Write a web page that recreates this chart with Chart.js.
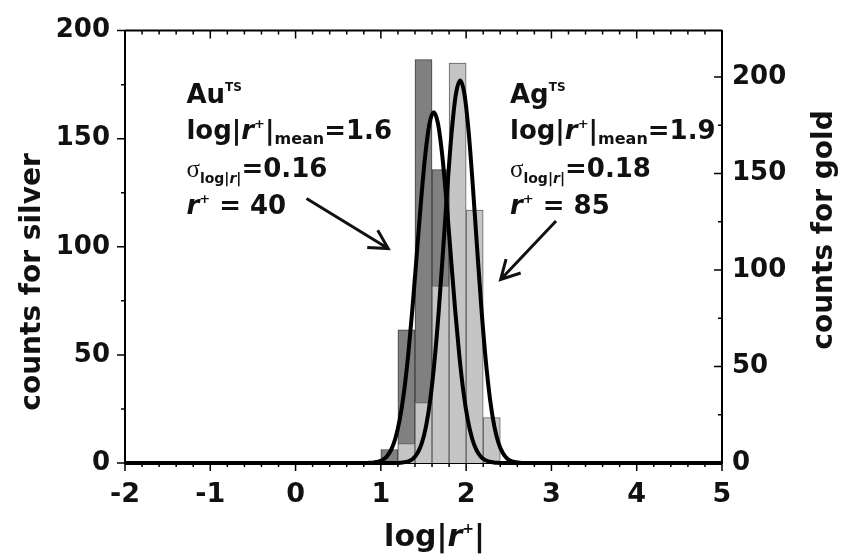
<!DOCTYPE html>
<html><head><meta charset="utf-8">
<script src="https://cdn.jsdelivr.net/npm/chart.js@4/dist/chart.umd.min.js"></script>
<style>html,body{margin:0;padding:0;background:#fff}</style>
</head><body>
<canvas id="c" width="842" height="560"></canvas>
<script>
// ---- data ----
const binCenters   = [1.1, 1.3, 1.5, 1.7, 1.9, 2.1, 2.3];   // log|r+| bin centres (bin width 0.2)
const goldCounts   = [7, 69, 209, 152, 42, 8, 0];            // Au (right axis), dark bars
const silverCounts = [0, 9, 28, 82, 185, 117, 21];           // Ag (left axis), light bars

const goldFitX = [-2, 0.82, 0.87, 0.92, 0.97, 1.02, 1.07, 1.12, 1.17, 1.22, 1.27, 1.32, 1.37, 1.42, 1.47, 1.52, 1.57, 1.62, 1.67, 1.72, 1.77, 1.82, 1.87, 1.92, 1.97, 2.02, 2.07, 2.12, 2.17, 2.22, 2.27, 2.32, 2.37, 2.42, 5];
const goldFitY = [0, 0, 0.1, 0.3, 0.7, 1.6, 3.4, 6.8, 12.7, 22.2, 36.3, 55.6, 79.9, 107.4, 135.2, 159.3, 175.8, 181.7, 175.8, 159.3, 135.2, 107.4, 79.9, 55.6, 36.3, 22.2, 12.7, 6.8, 3.4, 1.6, 0.7, 0.3, 0.1, 0, 0];

const silverFitX = [-2, 1.18, 1.23, 1.28, 1.33, 1.38, 1.43, 1.48, 1.53, 1.58, 1.63, 1.68, 1.73, 1.78, 1.83, 1.88, 1.93, 1.98, 2.03, 2.08, 2.13, 2.18, 2.23, 2.28, 2.33, 2.38, 2.43, 2.48, 2.53, 2.58, 2.63, 2.68, 5];
const silverFitY = [0, 0, 0.1, 0.4, 0.9, 2.1, 4.6, 9.2, 17.1, 29.5, 47.5, 71.0, 98.6, 127.3, 152.9, 170.6, 176.9, 170.6, 152.9, 127.3, 98.6, 71.0, 47.5, 29.5, 17.1, 9.2, 4.6, 2.1, 0.9, 0.4, 0.1, 0, 0];

const xTickLabels      = [-2, -1, 0, 1, 2, 3, 4, 5];
const silverTickLabels = [0, 50, 100, 150, 200];
const goldTickLabels   = [0, 50, 100, 150, 200];

// ---- annotation placement (data coordinates on x / left axis) ----
const auTextAnchor = {x: -1.28, lines: [166.3, 149.7, 132.1, 115.0]};
const agTextAnchor = {x: 2.514, lines: [166.3, 149.7, 132.1, 115.0]};
const auArrow = {x1: 0.128, y1: 122.3, x2: 1.086, y2: 99.2};
const agArrow = {x1: 3.054, y1: 111.9, x2: 2.405, y2: 84.9};

const FAM = '"DejaVu Sans"';
const bold = s => `bold ${s}px ${FAM}`;
const boldIt = s => `italic bold ${s}px ${FAM}`;

function blockRuns(name, mean, sigma, rplus) {
  return [
    [{t: name, f: bold(26)}, {t: 'TS', f: bold(12), dy: -12}],
    [{t: 'log|', f: bold(26)}, {t: 'r', f: boldIt(26)}, {t: '+', f: bold(13), dy: -11}, {t: '|', f: bold(26)}, {t: 'mean', f: bold(16), dy: 5}, {t: '=' + mean, f: bold(26)}],
    [{t: 'σ', f: `25px "Liberation Serif"`}, {t: 'log|', f: bold(14), dy: 6}, {t: 'r', f: boldIt(14), dy: 6}, {t: '|', f: bold(14), dy: 6}, {t: '=' + sigma, f: bold(26)}],
    [{t: 'r', f: boldIt(26)}, {t: '+', f: bold(13), dy: -11}, {t: ' = ' + rplus, f: bold(26)}]
  ];
}

function drawRuns(ctx, x, y, runs) {
  let cx = x;
  for (const r of runs) {
    ctx.font = r.f;
    ctx.fillText(r.t, cx, y + (r.dy || 0));
    cx += ctx.measureText(r.t).width;
  }
  return cx - x;
}

function drawArrow(ctx, x1, y1, x2, y2) {
  const a = Math.atan2(y2 - y1, x2 - x1);
  const L = 21, sp = 0.5;
  ctx.beginPath();
  ctx.moveTo(x1, y1); ctx.lineTo(x2, y2);
  ctx.moveTo(x2 - L * Math.cos(a - sp), y2 - L * Math.sin(a - sp));
  ctx.lineTo(x2, y2);
  ctx.lineTo(x2 - L * Math.cos(a + sp), y2 - L * Math.sin(a + sp));
  ctx.stroke();
}

const deco = {
  id: 'deco',
  afterDraw(chart) {
    const ctx = chart.ctx;
    const {x, y, y2} = chart.scales;
    const ca = chart.chartArea;
    ctx.save();
    ctx.strokeStyle = '#000';
    ctx.fillStyle = '#111';
    // top frame
    ctx.lineWidth = 2;
    ctx.beginPath(); ctx.moveTo(ca.left, ca.top); ctx.lineTo(ca.right, ca.top); ctx.stroke();
    // ticks
    ctx.lineWidth = 1.5;
    ctx.beginPath();
    for (let i = 0; i <= 35; i++) {
      const v = -2 + i * 0.2;
      const px = x.getPixelForValue(v);
      const major = i % 5 === 0;
      const len = major ? 8 : 4;
      ctx.moveTo(px, ca.bottom); ctx.lineTo(px, ca.bottom + len);
      ctx.moveTo(px, ca.top); ctx.lineTo(px, ca.top + len);
    }
    for (let v = 0; v <= 200; v += 25) {
      const py = y.getPixelForValue(v);
      const len = v % 50 === 0 ? 8 : 4;
      ctx.moveTo(ca.left, py); ctx.lineTo(ca.left - len, py);
    }
    for (let v = 0; v <= 200; v += 25) {
      const py = y2.getPixelForValue(v);
      const len = v % 50 === 0 ? 8 : 4;
      ctx.moveTo(ca.right, py); ctx.lineTo(ca.right - len, py);
    }
    ctx.stroke();

    // annotation text blocks
    ctx.textAlign = 'left';
    ctx.textBaseline = 'alphabetic';
    const au = blockRuns('Au', '1.6', '0.16', '40');
    const ag = blockRuns('Ag', '1.9', '0.18', '85');
    au.forEach((runs, i) => drawRuns(ctx, x.getPixelForValue(auTextAnchor.x), y.getPixelForValue(auTextAnchor.lines[i]), runs));
    ag.forEach((runs, i) => drawRuns(ctx, x.getPixelForValue(agTextAnchor.x), y.getPixelForValue(agTextAnchor.lines[i]), runs));

    // arrows
    ctx.strokeStyle = '#111';
    ctx.lineWidth = 3;
    ctx.lineCap = 'butt';
    for (const a of [auArrow, agArrow]) {
      drawArrow(ctx, x.getPixelForValue(a.x1), y.getPixelForValue(a.y1), x.getPixelForValue(a.x2), y.getPixelForValue(a.y2));
    }

    // x-axis title  log|r+|
    ctx.fillStyle = '#111';
    const tRuns = [{t: 'log|', f: bold(30)}, {t: 'r', f: boldIt(30)}, {t: '+', f: bold(14), dy: -13}, {t: '|', f: bold(30)}];
    let w = 0;
    for (const r of tRuns) { ctx.font = r.f; w += ctx.measureText(r.t).width; }
    const cx = (ca.left + ca.right) / 2 + 11;
    drawRuns(ctx, cx - w / 2, 546, tRuns);

    // y-axis titles (both read bottom to top)
    ctx.font = bold(28);
    ctx.textAlign = 'center';
    ctx.save(); ctx.translate(40, 282); ctx.rotate(-Math.PI / 2); ctx.fillText('counts for silver', 0, 0); ctx.restore();
    ctx.save(); ctx.translate(832, 230); ctx.rotate(-Math.PI / 2); ctx.fillText('counts for gold', 0, 0); ctx.restore();
    ctx.restore();
  }
};

const tickFont = s => ({family: 'DejaVu Sans', weight: 'bold', size: s});

new Chart(document.getElementById('c'), {
  type: 'bar',
  data: {
    datasets: [
      {type: 'line', label: 'Au fit', data: goldFitX.map((v, i) => ({x: v, y: goldFitY[i]})), yAxisID: 'y2',
       borderColor: '#000', borderWidth: 4, pointRadius: 0, cubicInterpolationMode: 'monotone', fill: false, clip: false, order: 0},
      {type: 'line', label: 'Ag fit', data: silverFitX.map((v, i) => ({x: v, y: silverFitY[i]})), yAxisID: 'y',
       borderColor: '#000', borderWidth: 4, pointRadius: 0, cubicInterpolationMode: 'monotone', fill: false, clip: false, order: 0},
      {type: 'bar', label: 'Ag', data: binCenters.map((v, i) => ({x: v, y: silverCounts[i]})), yAxisID: 'y',
       backgroundColor: '#c5c5c5', borderColor: '#606060', borderWidth: 1, grouped: false,
       barPercentage: 1, categoryPercentage: 1, order: 1},
      {type: 'bar', label: 'Au', data: binCenters.map((v, i) => ({x: v, y: goldCounts[i]})), yAxisID: 'y2',
       backgroundColor: '#808080', borderColor: '#404040', borderWidth: 1, grouped: false,
       barPercentage: 1, categoryPercentage: 1, order: 2}
    ]
  },
  options: {
    responsive: false, animation: false, devicePixelRatio: 1,
    layout: {padding: {top: 30, left: 0, right: 0, bottom: 0}},
    plugins: {legend: {display: false}, tooltip: {enabled: false}},
    scales: {
      x: {type: 'linear', position: 'bottom', min: -2, max: 5, offset: false,
          grid: {display: false, drawTicks: false},
          border: {display: true, color: '#000', width: 2},
          ticks: {padding: 16, color: '#111', font: tickFont(27), maxRotation: 0, autoSkip: false, includeBounds: false},
          afterBuildTicks(s) { s.ticks = xTickLabels.map(v => ({value: v})); },
          afterFit(s) { s.height = 97; }},
      y: {position: 'left', min: 0, max: 200,
          grid: {display: false, drawTicks: false},
          border: {display: true, color: '#000', width: 2},
          ticks: {padding: 15, color: '#111', font: tickFont(26), includeBounds: false},
          afterBuildTicks(s) { s.ticks = silverTickLabels.map(v => ({value: v})); },
          afterFit(s) { s.width = 125; }},
      y2: {position: 'right', min: 0, max: 224,
          grid: {display: false, drawTicks: false},
          border: {display: true, color: '#000', width: 2},
          ticks: {padding: 10, color: '#111', font: tickFont(26), includeBounds: false},
          afterBuildTicks(s) { s.ticks = goldTickLabels.map(v => ({value: v})); },
          afterFit(s) { s.width = 120; }}
    }
  },
  plugins: [deco]
});
</script>
</body></html>
